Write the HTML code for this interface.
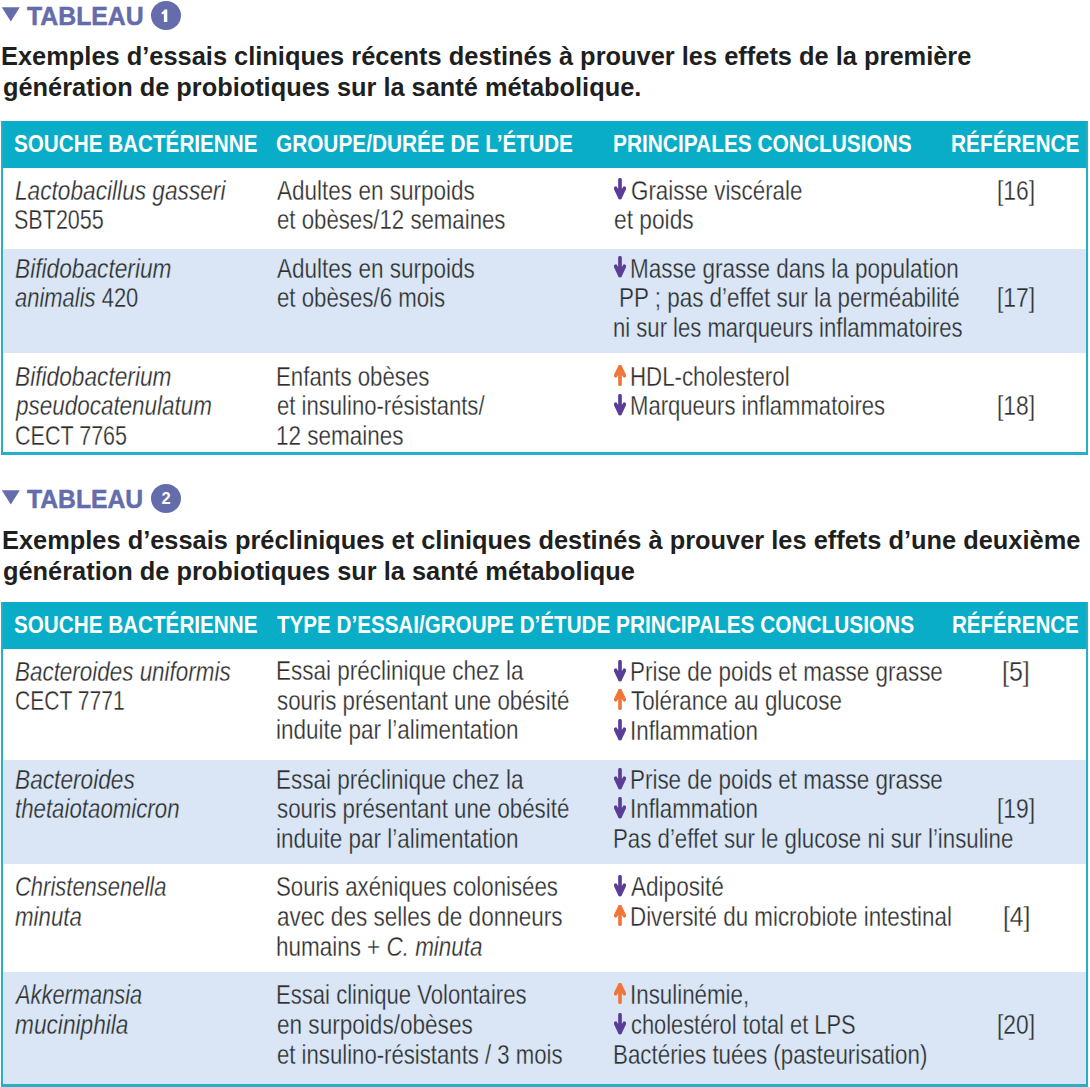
<!DOCTYPE html>
<html><head><meta charset="utf-8"><style>
html,body{margin:0;padding:0;background:#fff;}
body{width:1090px;height:1087px;position:relative;overflow:hidden;font-family:"Liberation Sans",sans-serif;}
.L{position:absolute;white-space:nowrap;transform-origin:0 0;}
.rg,.it{font-size:28.5px;line-height:28.5px;color:#2e2e2e;}
.it{font-style:italic;}
.rg,.it{-webkit-text-stroke:0.3px #fff;}
.b{-webkit-text-stroke-color:#dae6f6;}
.r{font-style:normal;}
.hdr{font-size:24px;line-height:24px;font-weight:700;color:#fff;}
.title{font-size:26px;line-height:26px;font-weight:700;color:#1f1f1f;}
.head{font-size:26.5px;line-height:26.5px;font-weight:700;color:#646cab;-webkit-text-stroke:0.5px #646cab;}
.box{position:absolute;}
</style></head><body>

<div class="box" style="left:3px;top:249px;width:1083px;height:103.5px;background:#dae6f6"></div>
<div class="box" style="left:1px;top:121px;width:1087px;height:46.5px;background:#0aadc8"></div>
<div class="box" style="left:1px;top:121px;width:2px;height:334px;background:#26b0c8"></div>
<div class="box" style="left:1086px;top:121px;width:2px;height:334px;background:#26b0c8"></div>
<div class="box" style="left:1px;top:452px;width:1087px;height:3px;background:#26b0c8"></div>
<div class="box" style="left:3px;top:760px;width:1083px;height:103.5px;background:#dae6f6"></div>
<div class="box" style="left:3px;top:972px;width:1083px;height:112px;background:#dae6f6"></div>
<div class="box" style="left:1px;top:602px;width:1087px;height:46.5px;background:#0aadc8"></div>
<div class="box" style="left:1px;top:602px;width:2px;height:485px;background:#26b0c8"></div>
<div class="box" style="left:1086px;top:602px;width:2px;height:485px;background:#26b0c8"></div>
<div class="box" style="left:1px;top:1084px;width:1087px;height:3px;background:#26b0c8"></div>
<svg class="box" style="left:0;top:0px" width="24" height="26" viewBox="0 0 24 26"><path d="M1.8 7.3 L19.8 7.3 L10.8 21.6 Z" fill="#646cab"/></svg>
<svg class="box" style="left:0;top:483.3px" width="24" height="26" viewBox="0 0 24 26"><path d="M1.8 7.3 L19.8 7.3 L10.8 21.6 Z" fill="#646cab"/></svg>
<div class="box" style="left:151px;top:0.8px;width:30px;height:29px;border-radius:50%;background:#646cab"></div>
<svg class="box" style="left:0;top:0" width="190" height="32" viewBox="0 0 190 32"><path d="M167.3 9.6 L164.6 9.6 Q163.6 11.6 161.6 12.2 L161.6 14.2 L163.9 14.0 L163.9 22.1 L167.3 22.1 Z" fill="#fff"/></svg>
<div class="box" style="left:151px;top:484.1px;width:30px;height:29px;border-radius:50%;background:#646cab;color:#fff;font-weight:700;font-size:16.5px;line-height:28px;text-align:center;">2</div>
<div class="L head" id="l0" style="left:27.48px;top:3.3px;transform:scaleX(0.9358)">TABLEAU</div>
<div class="L head" id="l1" style="left:27.47px;top:486.2px;transform:scaleX(0.9325)">TABLEAU</div>
<div class="L title" id="l2" style="left:1.49px;top:43px;transform:scaleX(0.9774)">Exemples d’essais cliniques récents destinés à prouver les effets de la première</div>
<div class="L title" id="l3" style="left:2.5px;top:74px;transform:scaleX(0.9753)">génération de probiotiques sur la santé métabolique.</div>
<div class="L title" id="l4" style="left:1.5px;top:527px;transform:scaleX(0.9768)">Exemples d’essais précliniques et cliniques destinés à prouver les effets d’une deuxième</div>
<div class="L title" id="l5" style="left:2.5px;top:558px;transform:scaleX(0.9762)">génération de probiotiques sur la santé métabolique</div>
<div class="L hdr" id="l6" style="left:14.38px;top:131.8px;transform:scaleX(0.8614)">SOUCHE BACTÉRIENNE</div>
<div class="L hdr" id="l7" style="left:275.94px;top:131.8px;transform:scaleX(0.8665)">GROUPE/DURÉE DE L’ÉTUDE</div>
<div class="L hdr" id="l8" style="left:613.43px;top:131.8px;transform:scaleX(0.8693)">PRINCIPALES CONCLUSIONS</div>
<div class="L hdr" id="l9" style="left:951.43px;top:131.8px;transform:scaleX(0.8676)">RÉFÉRENCE</div>
<div class="L hdr" id="l10" style="left:14.38px;top:612.7px;transform:scaleX(0.8614)">SOUCHE BACTÉRIENNE</div>
<div class="L hdr" id="l11" style="left:277px;top:612.7px;transform:scaleX(0.8585)">TYPE D’ESSAI/GROUPE D’ÉTUDE</div>
<div class="L hdr" id="l12" style="left:615.74px;top:612.7px;transform:scaleX(0.8674)">PRINCIPALES CONCLUSIONS</div>
<div class="L hdr" id="l13" style="left:952.35px;top:612.7px;transform:scaleX(0.8567)">RÉFÉRENCE</div>
<div class="L it" id="l14" style="left:14.61px;top:175.5px;transform:scaleX(0.7955)">Lactobacillus gasseri</div>
<div class="L rg" id="l15" style="left:13.64px;top:205.4px;transform:scaleX(0.7555)">SBT2055</div>
<div class="L it b" id="l16" style="left:14.6px;top:253.5px;transform:scaleX(0.7969)">Bifidobacterium</div>
<div class="L it b" id="l17" style="left:14.63px;top:283px;transform:scaleX(0.7708)">animalis<span class="r"> 420</span></div>
<div class="L it" id="l18" style="left:14.6px;top:362px;transform:scaleX(0.7969)">Bifidobacterium</div>
<div class="L it" id="l19" style="left:15.6px;top:391.3px;transform:scaleX(0.7879)">pseudocatenulatum</div>
<div class="L rg" id="l20" style="left:14.65px;top:420.9px;transform:scaleX(0.7550)">CECT 7765</div>
<div class="L rg" id="l21" style="left:276.59px;top:175.5px;transform:scaleX(0.7904)">Adultes en surpoids</div>
<div class="L rg" id="l22" style="left:276.62px;top:205.4px;transform:scaleX(0.7794)">et obèses/12 semaines</div>
<div class="L rg b" id="l23" style="left:276.59px;top:253.5px;transform:scaleX(0.7904)">Adultes en surpoids</div>
<div class="L rg b" id="l24" style="left:276.62px;top:283px;transform:scaleX(0.7804)">et obèses/6 mois</div>
<div class="L rg" id="l25" style="left:275.64px;top:362px;transform:scaleX(0.7813)">Enfants obèses</div>
<div class="L rg" id="l26" style="left:276.63px;top:391.3px;transform:scaleX(0.7752)">et insulino-résistants/</div>
<div class="L rg" id="l27" style="left:275.63px;top:420.9px;transform:scaleX(0.7886)">12 semaines</div>
<div class="L rg" id="l28" style="left:631.02px;top:175.5px;transform:scaleX(0.7843)">Graisse viscérale</div>
<div class="L rg" id="l29" style="left:614.4px;top:205.4px;transform:scaleX(0.7980)">et poids</div>
<div class="L rg b" id="l30" style="left:630.03px;top:253.5px;transform:scaleX(0.7889)">Masse grasse dans la population</div>
<div class="L rg b" id="l31" style="left:619.43px;top:283px;transform:scaleX(0.7869)">PP ; pas d’effet sur la perméabilité</div>
<div class="L rg b" id="l32" style="left:613.46px;top:313px;transform:scaleX(0.7745)">ni sur les marqueurs inflammatoires</div>
<div class="L rg" id="l33" style="left:630.05px;top:362px;transform:scaleX(0.7810)">HDL-cholesterol</div>
<div class="L rg" id="l34" style="left:630.08px;top:391.3px;transform:scaleX(0.7743)">Marqueurs inflammatoires</div>
<div class="L rg" id="l35" style="left:997px;top:175.5px;transform:scaleX(0.8003)">[16]</div>
<div class="L rg b" id="l36" style="left:997px;top:283px;transform:scaleX(0.8003)">[17]</div>
<div class="L rg" id="l37" style="left:997px;top:391.3px;transform:scaleX(0.8003)">[18]</div>
<div class="L it" id="l38" style="left:14.62px;top:656.8px;transform:scaleX(0.7868)">Bacteroides uniformis</div>
<div class="L rg" id="l39" style="left:14.68px;top:686.3px;transform:scaleX(0.7385)">CECT 7771</div>
<div class="L it b" id="l40" style="left:14.6px;top:764.8px;transform:scaleX(0.7960)">Bacteroides</div>
<div class="L it b" id="l41" style="left:14.62px;top:794.3px;transform:scaleX(0.7809)">thetaiotaomicron</div>
<div class="L it" id="l42" style="left:14.64px;top:871.8px;transform:scaleX(0.7711)">Christensenella</div>
<div class="L it" id="l43" style="left:14.61px;top:902.1px;transform:scaleX(0.7813)">minuta</div>
<div class="L it b" id="l44" style="left:15.54px;top:980.4px;transform:scaleX(0.7662)">Akkermansia</div>
<div class="L it b" id="l45" style="left:14.6px;top:1009.9px;transform:scaleX(0.7958)">muciniphila</div>
<div class="L rg" id="l46" style="left:275.62px;top:656px;transform:scaleX(0.7891)">Essai préclinique chez la</div>
<div class="L rg" id="l47" style="left:276.62px;top:685.5px;transform:scaleX(0.7817)">souris présentant une obésité</div>
<div class="L rg" id="l48" style="left:275.63px;top:715.3px;transform:scaleX(0.7888)">induite par l’alimentation</div>
<div class="L rg b" id="l49" style="left:275.62px;top:764.8px;transform:scaleX(0.7891)">Essai préclinique chez la</div>
<div class="L rg b" id="l50" style="left:276.62px;top:794.3px;transform:scaleX(0.7817)">souris présentant une obésité</div>
<div class="L rg b" id="l51" style="left:275.63px;top:824.1px;transform:scaleX(0.7888)">induite par l’alimentation</div>
<div class="L rg" id="l52" style="left:275.62px;top:871.8px;transform:scaleX(0.7805)">Souris axéniques colonisées</div>
<div class="L rg" id="l53" style="left:276.61px;top:902.1px;transform:scaleX(0.7905)">avec des selles de donneurs</div>
<div class="L rg" id="l54" style="left:275.63px;top:932px;transform:scaleX(0.7877)">humains + <i>C. minuta</i></div>
<div class="L rg b" id="l55" style="left:275.66px;top:980.4px;transform:scaleX(0.7750)">Essai clinique Volontaires</div>
<div class="L rg b" id="l56" style="left:276.61px;top:1009.9px;transform:scaleX(0.7919)">en surpoids/obèses</div>
<div class="L rg b" id="l57" style="left:276.62px;top:1039.7px;transform:scaleX(0.7770)">et insulino-résistants / 3 mois</div>
<div class="L rg" id="l58" style="left:630.04px;top:656.8px;transform:scaleX(0.7868)">Prise de poids et masse grasse</div>
<div class="L rg" id="l59" style="left:631.02px;top:686.3px;transform:scaleX(0.7828)">Tolérance au glucose</div>
<div class="L rg" id="l60" style="left:630.04px;top:716.4px;transform:scaleX(0.7837)">Inflammation</div>
<div class="L rg b" id="l61" style="left:630.04px;top:764.8px;transform:scaleX(0.7868)">Prise de poids et masse grasse</div>
<div class="L rg b" id="l62" style="left:630.04px;top:794.3px;transform:scaleX(0.7837)">Inflammation</div>
<div class="L rg b" id="l63" style="left:613.44px;top:823.8px;transform:scaleX(0.7807)">Pas d’effet sur le glucose ni sur l’insuline</div>
<div class="L rg" id="l64" style="left:630.99px;top:871.8px;transform:scaleX(0.7916)">Adiposité</div>
<div class="L rg" id="l65" style="left:630.04px;top:902.1px;transform:scaleX(0.7847)">Diversité du microbiote intestinal</div>
<div class="L rg b" id="l66" style="left:630.05px;top:980.4px;transform:scaleX(0.7838)">Insulinémie,</div>
<div class="L rg b" id="l67" style="left:631.05px;top:1009.9px;transform:scaleX(0.7662)">cholestérol total et LPS</div>
<div class="L rg b" id="l68" style="left:613.43px;top:1039.7px;transform:scaleX(0.7844)">Bactéries tuées (pasteurisation)</div>
<div class="L rg" id="l69" style="left:1002.01px;top:656.8px;transform:scaleX(0.8738)">[5]</div>
<div class="L rg b" id="l70" style="left:997px;top:794.3px;transform:scaleX(0.8003)">[19]</div>
<div class="L rg" id="l71" style="left:1002.63px;top:902.1px;transform:scaleX(0.8663)">[4]</div>
<div class="L rg b" id="l72" style="left:997px;top:1009.9px;transform:scaleX(0.8003)">[20]</div>
<svg class="box" style="left:613.6px;top:178.4px" width="12" height="22" viewBox="-0.5 0 12 22"><path d="M5.5 1.8 V19" stroke="#5b3d98" stroke-width="3.7" stroke-linecap="round"/><path d="M1.1 10.3 L5.5 19.6 L9.9 10.3" stroke="#5b3d98" stroke-width="3.7" fill="none" stroke-linecap="round" stroke-linejoin="round"/><path d="M1.5 10.8 L5.5 19.6 L9.5 10.8 Z" fill="#5b3d98"/></svg>
<svg class="box" style="left:613.6px;top:256.3px" width="12" height="22" viewBox="-0.5 0 12 22"><path d="M5.5 1.8 V19" stroke="#5b3d98" stroke-width="3.7" stroke-linecap="round"/><path d="M1.1 10.3 L5.5 19.6 L9.9 10.3" stroke="#5b3d98" stroke-width="3.7" fill="none" stroke-linecap="round" stroke-linejoin="round"/><path d="M1.5 10.8 L5.5 19.6 L9.5 10.8 Z" fill="#5b3d98"/></svg>
<svg class="box" style="left:613.6px;top:364.8px" width="12" height="22" viewBox="-0.5 0 12 22"><path d="M5.5 19.2 V2" stroke="#f0763a" stroke-width="3.7" stroke-linecap="round"/><path d="M1.1 10.7 L5.5 1.6 L9.9 10.7" stroke="#f0763a" stroke-width="3.7" fill="none" stroke-linecap="round" stroke-linejoin="round"/><path d="M1.5 10.2 L5.5 1.6 L9.5 10.2 Z" fill="#f0763a"/></svg>
<svg class="box" style="left:613.6px;top:394.1px" width="12" height="22" viewBox="-0.5 0 12 22"><path d="M5.5 1.8 V19" stroke="#5b3d98" stroke-width="3.7" stroke-linecap="round"/><path d="M1.1 10.3 L5.5 19.6 L9.9 10.3" stroke="#5b3d98" stroke-width="3.7" fill="none" stroke-linecap="round" stroke-linejoin="round"/><path d="M1.5 10.8 L5.5 19.6 L9.5 10.8 Z" fill="#5b3d98"/></svg>
<svg class="box" style="left:613.6px;top:659.6px" width="12" height="22" viewBox="-0.5 0 12 22"><path d="M5.5 1.8 V19" stroke="#5b3d98" stroke-width="3.7" stroke-linecap="round"/><path d="M1.1 10.3 L5.5 19.6 L9.9 10.3" stroke="#5b3d98" stroke-width="3.7" fill="none" stroke-linecap="round" stroke-linejoin="round"/><path d="M1.5 10.8 L5.5 19.6 L9.5 10.8 Z" fill="#5b3d98"/></svg>
<svg class="box" style="left:613.6px;top:689.1px" width="12" height="22" viewBox="-0.5 0 12 22"><path d="M5.5 19.2 V2" stroke="#f0763a" stroke-width="3.7" stroke-linecap="round"/><path d="M1.1 10.7 L5.5 1.6 L9.9 10.7" stroke="#f0763a" stroke-width="3.7" fill="none" stroke-linecap="round" stroke-linejoin="round"/><path d="M1.5 10.2 L5.5 1.6 L9.5 10.2 Z" fill="#f0763a"/></svg>
<svg class="box" style="left:613.6px;top:719.2px" width="12" height="22" viewBox="-0.5 0 12 22"><path d="M5.5 1.8 V19" stroke="#5b3d98" stroke-width="3.7" stroke-linecap="round"/><path d="M1.1 10.3 L5.5 19.6 L9.9 10.3" stroke="#5b3d98" stroke-width="3.7" fill="none" stroke-linecap="round" stroke-linejoin="round"/><path d="M1.5 10.8 L5.5 19.6 L9.5 10.8 Z" fill="#5b3d98"/></svg>
<svg class="box" style="left:613.6px;top:767.6px" width="12" height="22" viewBox="-0.5 0 12 22"><path d="M5.5 1.8 V19" stroke="#5b3d98" stroke-width="3.7" stroke-linecap="round"/><path d="M1.1 10.3 L5.5 19.6 L9.9 10.3" stroke="#5b3d98" stroke-width="3.7" fill="none" stroke-linecap="round" stroke-linejoin="round"/><path d="M1.5 10.8 L5.5 19.6 L9.5 10.8 Z" fill="#5b3d98"/></svg>
<svg class="box" style="left:613.6px;top:797.1px" width="12" height="22" viewBox="-0.5 0 12 22"><path d="M5.5 1.8 V19" stroke="#5b3d98" stroke-width="3.7" stroke-linecap="round"/><path d="M1.1 10.3 L5.5 19.6 L9.9 10.3" stroke="#5b3d98" stroke-width="3.7" fill="none" stroke-linecap="round" stroke-linejoin="round"/><path d="M1.5 10.8 L5.5 19.6 L9.5 10.8 Z" fill="#5b3d98"/></svg>
<svg class="box" style="left:613.6px;top:874.6px" width="12" height="22" viewBox="-0.5 0 12 22"><path d="M5.5 1.8 V19" stroke="#5b3d98" stroke-width="3.7" stroke-linecap="round"/><path d="M1.1 10.3 L5.5 19.6 L9.9 10.3" stroke="#5b3d98" stroke-width="3.7" fill="none" stroke-linecap="round" stroke-linejoin="round"/><path d="M1.5 10.8 L5.5 19.6 L9.5 10.8 Z" fill="#5b3d98"/></svg>
<svg class="box" style="left:613.6px;top:904.9px" width="12" height="22" viewBox="-0.5 0 12 22"><path d="M5.5 19.2 V2" stroke="#f0763a" stroke-width="3.7" stroke-linecap="round"/><path d="M1.1 10.7 L5.5 1.6 L9.9 10.7" stroke="#f0763a" stroke-width="3.7" fill="none" stroke-linecap="round" stroke-linejoin="round"/><path d="M1.5 10.2 L5.5 1.6 L9.5 10.2 Z" fill="#f0763a"/></svg>
<svg class="box" style="left:613.6px;top:983.2px" width="12" height="22" viewBox="-0.5 0 12 22"><path d="M5.5 19.2 V2" stroke="#f0763a" stroke-width="3.7" stroke-linecap="round"/><path d="M1.1 10.7 L5.5 1.6 L9.9 10.7" stroke="#f0763a" stroke-width="3.7" fill="none" stroke-linecap="round" stroke-linejoin="round"/><path d="M1.5 10.2 L5.5 1.6 L9.5 10.2 Z" fill="#f0763a"/></svg>
<svg class="box" style="left:613.6px;top:1012.7px" width="12" height="22" viewBox="-0.5 0 12 22"><path d="M5.5 1.8 V19" stroke="#5b3d98" stroke-width="3.7" stroke-linecap="round"/><path d="M1.1 10.3 L5.5 19.6 L9.9 10.3" stroke="#5b3d98" stroke-width="3.7" fill="none" stroke-linecap="round" stroke-linejoin="round"/><path d="M1.5 10.8 L5.5 19.6 L9.5 10.8 Z" fill="#5b3d98"/></svg>
</body></html>
